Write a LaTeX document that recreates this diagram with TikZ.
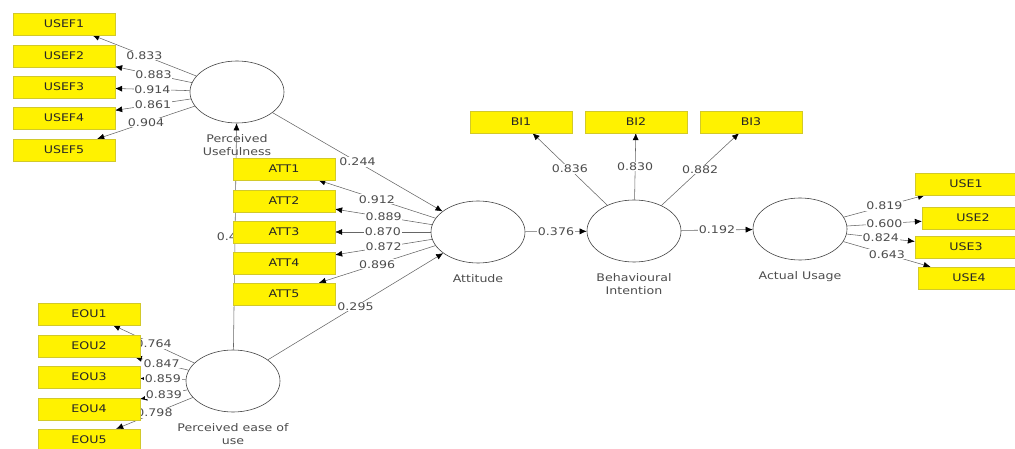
\documentclass[tikz,border=0pt]{standalone}
\usepackage{fontspec}
\setmainfont{DejaVu Sans}[FakeStretch=1.2]
\usepackage{tikz}
\usetikzlibrary{shapes.geometric,arrows.meta,backgrounds}

\begin{document}
\begin{tikzpicture}[x=1pt,y=-1pt,
        ind/.style={rectangle, fill=yellow, draw=yellow!80!black, line width=0.3pt,
            minimum width=102pt, minimum height=22pt, inner sep=0pt,
            font=\fontsize{10.5}{12}\selectfont, text=black!85},
        lat/.style={ellipse, draw=black!75, line width=0.6pt,
            minimum width=94pt, minimum height=62pt, inner sep=0pt},
        latname/.style={font=\fontsize{10.5}{13}\selectfont, text=black!70,
            align=center, label distance=8pt},
        link/.style={draw=black!60, line width=0.55pt,
            -{Latex[length=7pt,width=6pt,black]}},
        coef/.style={midway, fill=white, inner sep=0.8pt,
            font=\fontsize{10.5}{12}\selectfont, text=black!70}]
        \useasboundingbox (0,0) rectangle (1015,449);
        \clip (0,0) rectangle (1015,449);

        % latent variables
        \node[lat, label={[latname]below:Perceived\\Usefulness}] (pu) at (237,92) {};
        \node[lat, label={[latname]below:Perceived ease of\\use}] (peou) at (233,381) {};
        \node[lat, label={[latname]below:Attitude}] (att) at (478,232) {};
        \node[lat, label={[latname]below:Behavioural\\Intention}] (bi) at (634,231) {};
        \node[lat, label={[latname]below:Actual Usage}] (au) at (800,229) {};

        % indicators
        \node[ind] (usef1) at (64,24) {USEF1};
        \node[ind] (usef2) at (64,56) {USEF2};
        \node[ind] (usef3) at (64,87) {USEF3};
        \node[ind] (usef4) at (64,118) {USEF4};
        \node[ind] (usef5) at (64,150) {USEF5};

        \node[ind] (att1) at (284,169) {ATT1};
        \node[ind] (att2) at (284,201) {ATT2};
        \node[ind] (att3) at (284,232) {ATT3};
        \node[ind] (att4) at (284,263) {ATT4};
        \node[ind] (att5) at (284,294) {ATT5};

        \node[ind] (eou1) at (89,314) {EOU1};
        \node[ind] (eou2) at (89,346) {EOU2};
        \node[ind] (eou3) at (89,377) {EOU3};
        \node[ind] (eou4) at (89,409) {EOU4};
        \node[ind] (eou5) at (89,440) {EOU5};

        \node[ind] (bi1) at (521,122) {BI1};
        \node[ind] (bi2) at (636,122) {BI2};
        \node[ind] (bi3) at (751,122) {BI3};

        \node[ind] (use1) at (966,184) {USE1};
        \node[ind] (use2) at (973,218) {USE2};
        \node[ind] (use3) at (966,247) {USE3};
        \node[ind] (use4) at (969,278) {USE4};

        \begin{scope}[on background layer]
        % structural paths
        \draw[link] (peou) -- node[coef]{0.4\phantom{00}} (pu);
        \draw[link] (pu) -- node[coef]{0.244} (att);
        \draw[link] (peou) -- node[coef]{0.295} (att);
        \draw[link] (att) -- node[coef]{0.376} (bi);
        \draw[link] (bi) -- node[coef]{0.192} (au);

        % outer loadings
        \draw[link] (pu) -- node[coef]{0.833} (usef1);
        \draw[link] (pu) -- node[coef]{0.883} (usef2);
        \draw[link] (pu) -- node[coef]{0.914} (usef3);
        \draw[link] (pu) -- node[coef]{0.861} (usef4);
        \draw[link] (pu) -- node[coef]{0.904} (usef5);

        \draw[link] (att) -- node[coef]{0.912} (att1);
        \draw[link] (att) -- node[coef]{0.889} (att2);
        \draw[link] (att) -- node[coef]{0.870} (att3);
        \draw[link] (att) -- node[coef]{0.872} (att4);
        \draw[link] (att) -- node[coef]{0.896} (att5);

        \draw[link] (peou) -- node[coef]{0.764} (eou1);
        \draw[link] (peou) -- node[coef]{0.847} (eou2);
        \draw[link] (peou) -- node[coef]{0.859} (eou3);
        \draw[link] (peou) -- node[coef]{0.839} (eou4);
        \draw[link] (peou) -- node[coef]{0.798} (eou5);

        \draw[link] (bi) -- node[coef]{0.836} (bi1);
        \draw[link] (bi) -- node[coef]{0.830} (bi2);
        \draw[link] (bi) -- node[coef]{0.882} (bi3);

        \draw[link] (au) -- node[coef]{0.819} (use1);
        \draw[link] (au) -- node[coef]{0.600} (use2);
        \draw[link] (au) -- node[coef]{0.824} (use3);
        \draw[link] (au) -- node[coef]{0.643} (use4);
        \end{scope}
    \end{tikzpicture}
\end{document}
